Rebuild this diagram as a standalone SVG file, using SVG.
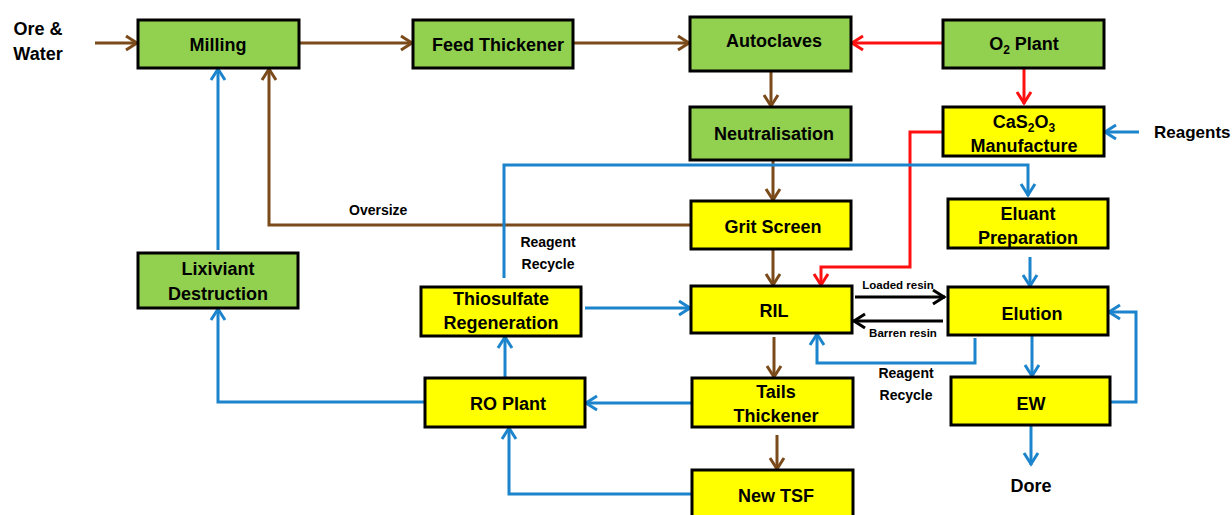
<svg xmlns="http://www.w3.org/2000/svg" width="1232" height="515" viewBox="0 0 1232 515">
<style>
.box{stroke:#000;stroke-width:3}
.g{fill:#92D050}
.y{fill:#FFFF00}
text{font-family:"Liberation Sans",Arial,sans-serif;font-weight:bold;fill:#000}
.t{font-size:18px;text-anchor:middle}
.lbl{font-size:14px}
.sm{font-size:11.5px}
.c{fill:none;stroke-width:3}
.br{stroke:#7B4A1A;marker-end:url(#mBr)}
.bl{stroke:#1B84CC;marker-end:url(#mBl)}
.rd{stroke:#FF1010;marker-end:url(#mRd)}
.bk{stroke:#000;marker-end:url(#mBk)}
</style>
<defs>
<marker id="mBr" viewBox="-2 -2 16 18" markerWidth="16" markerHeight="18" refX="12" refY="7" orient="auto" markerUnits="userSpaceOnUse"><path d="M0,0 L11,7 L0,14" fill="none" stroke="#7B4A1A" stroke-width="3"/></marker>
<marker id="mBl" viewBox="-2 -2 16 18" markerWidth="16" markerHeight="18" refX="12" refY="7" orient="auto" markerUnits="userSpaceOnUse"><path d="M0,0 L11,7 L0,14" fill="none" stroke="#1B84CC" stroke-width="3"/></marker>
<marker id="mRd" viewBox="-2 -2 16 18" markerWidth="16" markerHeight="18" refX="12" refY="7" orient="auto" markerUnits="userSpaceOnUse"><path d="M0,0 L11,7 L0,14" fill="none" stroke="#FF1010" stroke-width="3"/></marker>
<marker id="mBk" viewBox="-2 -2 16 18" markerWidth="16" markerHeight="18" refX="12" refY="7" orient="auto" markerUnits="userSpaceOnUse"><path d="M0,0 L11,7 L0,14" fill="none" stroke="#000" stroke-width="3"/></marker>
</defs>
<rect width="1232" height="515" fill="#fff"/>

<g id="connectors">
<path class="c br" d="M95,43 H138"/>
<path class="c br" d="M299,43 H413"/>
<path class="c br" d="M573,43 H690"/>
<path class="c rd" d="M943,43 H851"/>
<path class="c rd" d="M1024,68 V104"/>
<path class="c br" d="M771,71 V107"/>
<path class="c br" d="M773,160 V201"/>
<path class="c br" d="M691,225 H269 V68"/>
<path class="c br" d="M773,249 V286"/>
<path class="c rd" d="M943,132 H910 V267 H821 V286"/>
<path class="c bl" d="M1139,132 H1104"/>
<path class="c bl" d="M504,278 V165 H1028 V196"/>
<path class="c bl" d="M585,308 H691"/>
<path class="c bl" d="M1030,257 V287"/>
<path class="c bk" d="M855,297 H945"/>
<path class="c bk" d="M943,321 H853"/>
<path class="c bl" d="M975,338 V363 H817 V333"/>
<path class="c bl" d="M1032,335 V377"/>
<path class="c bl" d="M1110,402 H1136 V312 H1108"/>
<path class="c bl" d="M1031,425 V465"/>
<path class="c br" d="M774,337 V378"/>
<path class="c bl" d="M692,403 H585"/>
<path class="c br" d="M777,435 V470"/>
<path class="c bl" d="M692,494 H509 V427"/>
<path class="c bl" d="M505,377 V336"/>
<path class="c bl" d="M425,402 H218 V308"/>
<path class="c bl" d="M218,250 V68"/>
<text class="lbl" x="349" y="215">Oversize</text>
<text class="lbl" x="548" y="247" text-anchor="middle">Reagent</text>
<text class="lbl" x="548" y="269" text-anchor="middle">Recycle</text>
<text class="sm" x="898" y="289" text-anchor="middle">Loaded resin</text>
<text class="sm" x="903" y="337" text-anchor="middle">Barren resin</text>
<text class="lbl" x="906" y="378" text-anchor="middle">Reagent</text>
<text class="lbl" x="906" y="400" text-anchor="middle">Recycle</text>
</g>

<g id="ore"><text class="t" x="38" y="35">Ore &amp;</text><text class="t" x="38" y="60">Water</text></g>
<g id="milling"><rect class="box g" x="138" y="20" width="161" height="48"/><text class="t" x="218" y="51">Milling</text></g>
<g id="feed-thickener"><rect class="box g" x="413" y="20" width="160" height="48"/><text class="t" x="498" y="51">Feed Thickener</text></g>
<g id="autoclaves"><rect class="box g" x="690" y="17" width="161" height="54"/><text class="t" x="774" y="47">Autoclaves</text></g>
<g id="o2-plant"><rect class="box g" x="943" y="20" width="161" height="48"/><text class="t" x="1024" y="50">O<tspan font-size="12" dy="4">2</tspan><tspan dy="-4"> Plant</tspan></text></g>
<g id="neutralisation"><rect class="box g" x="690" y="107" width="161" height="53"/><text class="t" x="774" y="140">Neutralisation</text></g>
<g id="cas2o3"><rect class="box y" x="943" y="107" width="161" height="49"/><text class="t" x="1024" y="128">CaS<tspan font-size="12" dy="4">2</tspan><tspan dy="-4">O</tspan><tspan font-size="12" dy="4">3</tspan></text><text class="t" x="1024" y="152">Manufacture</text></g>
<g id="reagents"><text x="1154" y="138" font-size="17">Reagents</text></g>
<g id="grit-screen"><rect class="box y" x="691" y="201" width="160" height="48"/><text class="t" x="773" y="233">Grit Screen</text></g>
<g id="eluant-preparation"><rect class="box y" x="948" y="199" width="160" height="49"/><text class="t" x="1028" y="220">Eluant</text><text class="t" x="1028" y="244">Preparation</text></g>
<g id="lixiviant-destruction"><rect class="box g" x="138" y="253" width="160" height="55"/><text class="t" x="218" y="275">Lixiviant</text><text class="t" x="218" y="300">Destruction</text></g>
<g id="thiosulfate-regeneration"><rect class="box y" x="421" y="287" width="160" height="49"/><text class="t" x="501" y="305">Thiosulfate</text><text class="t" x="501" y="329">Regeneration</text></g>
<g id="ril"><rect class="box y" x="691" y="286" width="161" height="47"/><text class="t" x="774" y="317">RIL</text></g>
<g id="elution"><rect class="box y" x="948" y="287" width="160" height="48"/><text class="t" x="1032" y="320">Elution</text></g>
<g id="ro-plant"><rect class="box y" x="425" y="378" width="160" height="49"/><text class="t" x="508" y="410">RO Plant</text></g>
<g id="tails-thickener"><rect class="box y" x="692" y="378" width="161" height="49"/><text class="t" x="776" y="398">Tails</text><text class="t" x="776" y="422">Thickener</text></g>
<g id="ew"><rect class="box y" x="951" y="377" width="159" height="48"/><text class="t" x="1031" y="410">EW</text></g>
<g id="new-tsf"><rect class="box y" x="692" y="470" width="161" height="56"/><text class="t" x="776" y="502">New TSF</text></g>
<g id="dore"><text class="t" x="1031" y="492">Dore</text></g>
</svg>
